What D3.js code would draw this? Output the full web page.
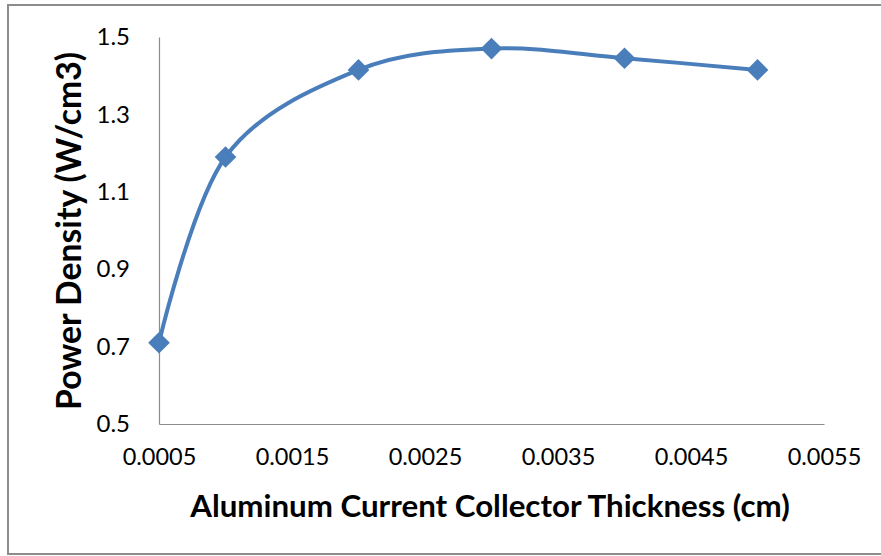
<!DOCTYPE html>
<html>
<head>
<meta charset="utf-8">
<script src="https://cdn.jsdelivr.net/npm/d3@7"></script>
<style>
  html, body { margin: 0; padding: 0; background: #fff; }
  svg { display: block; }
  text { font-family: Lato, "Open Sans", sans-serif; fill: #000; }
</style>
</head>
<body>
<svg id="chart" width="881" height="556"></svg>
<script>
// Aluminum current collector thickness (cm) vs. power density (W/cm3)
const thickness = [0.0005, 0.001, 0.002, 0.003, 0.004, 0.005];
const powerDensity = [0.71, 1.19, 1.415, 1.47, 1.445, 1.415];
const xTicks = [0.0005, 0.0015, 0.0025, 0.0035, 0.0045, 0.0055];
const yTicks = [0.5, 0.7, 0.9, 1.1, 1.3, 1.5];
const xTitle = "Aluminum Current Collector Thickness (cm)";
const yTitle = "Power Density (W/cm3)";

const svg = d3.select("#chart");

// outer chart frame
svg.append("rect")
  .attr("x", 8).attr("y", 5).attr("width", 880).attr("height", 549)
  .attr("fill", "#fff").attr("stroke", "#8c8c8c").attr("stroke-width", 2);

const x = d3.scaleLinear().domain([0.0005, 0.0055]).range([159, 824]);
const y = d3.scaleLinear().domain([0.5, 1.5]).range([424, 37]);

// y axis
const yAxis = svg.append("g")
  .attr("transform", `translate(${x.range()[0]},0)`)
  .call(d3.axisLeft(y).tickValues(yTicks).tickFormat(d3.format(".1f")).tickSize(0).tickPadding(29));
yAxis.select(".domain").attr("stroke", "#8c8c8c").attr("stroke-width", 1.2);
yAxis.selectAll("text").attr("font-size", 24).attr("font-family", "Lato, sans-serif").attr("fill", "#000");

// x axis
const xAxis = svg.append("g")
  .attr("transform", `translate(0,${y.range()[0]})`)
  .call(d3.axisBottom(x).tickValues(xTicks).tickFormat(d3.format(".4f")).tickSize(0).tickPadding(24));
xAxis.select(".domain").attr("stroke", "#8c8c8c").attr("stroke-width", 1.2);
xAxis.selectAll("text").attr("font-size", 23.5).attr("font-family", "Lato, sans-serif").attr("fill", "#000");

// axis titles, sized to their span
function fitText(sel, target) {
  const w = sel.node().getComputedTextLength();
  const fs = parseFloat(sel.attr("font-size"));
  sel.attr("font-size", fs * target / w);
}
const xt = svg.append("text")
  .attr("x", 490).attr("y", 517)
  .attr("text-anchor", "middle").attr("font-weight", "bold").attr("font-size", 26)
  .text(xTitle);
fitText(xt, 600);

const yt = svg.append("text")
  .attr("transform", "translate(81,231) rotate(-90)")
  .attr("text-anchor", "middle").attr("font-weight", "bold").attr("font-size", 26)
  .text(yTitle);
fitText(yt, 358);

const data = thickness.map((t, i) => ({ t, v: powerDensity[i] }));
const color = "#4a7ebb";

// smoothed series line
const line = d3.line().x(d => x(d.t)).y(d => y(d.v)).curve(d3.curveCardinal.tension(0));
svg.append("path")
  .datum(data)
  .attr("d", line)
  .attr("fill", "none").attr("stroke", color).attr("stroke-width", 4)
  .attr("stroke-linejoin", "round");

// diamond markers
const sym = d3.symbol().type(d3.symbolSquare).size(235);
svg.selectAll(".pt").data(data).join("path")
  .attr("class", "pt")
  .attr("transform", d => `translate(${x(d.t)},${y(d.v)}) rotate(45)`)
  .attr("d", sym)
  .attr("fill", color);
</script>
</body>
</html>
